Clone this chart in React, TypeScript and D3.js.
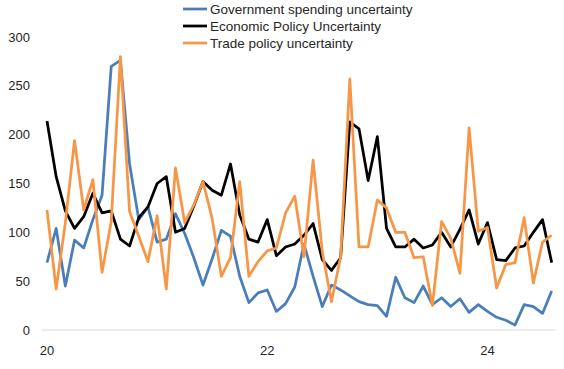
import * as d3 from "d3";

// monthly values, Jan 2020 .. Aug 2024
const govSpending = [69, 104, 45, 92, 84, 113, 138, 270, 276, 170, 113, 126, 90, 93, 119, 99, 74, 46, 73, 102, 96, 55, 28, 38, 41, 19, 27, 44, 88, 55, 24, 46, 41, 35, 29, 26, 25, 14, 54, 33, 28, 45, 26, 33, 24, 32, 18, 26, 19, 13, 10, 5, 26, 24, 17, 40];
const econPolicy = [214, 157, 122, 104, 116, 140, 120, 122, 93, 86, 115, 126, 150, 157, 100, 104, 127, 152, 143, 138, 170, 118, 93, 90, 113, 76, 85, 88, 97, 109, 72, 61, 74, 213, 206, 153, 198, 104, 85, 85, 93, 84, 87, 100, 85, 103, 123, 88, 110, 72, 71, 84, 86, 100, 113, 69];
const tradePolicy = [123, 42, 110, 194, 123, 154, 59, 111, 280, 121, 96, 70, 117, 42, 166, 110, 128, 152, 114, 55, 74, 152, 55, 70, 81, 84, 120, 137, 75, 174, 80, 29, 75, 257, 85, 85, 133, 125, 100, 100, 74, 75, 25, 111, 94, 58, 207, 101, 105, 43, 67, 69, 115, 48, 90, 97];

const xTicks = [20, 22, 24];
const yTicks = [0, 50, 100, 150, 200, 250, 300];

const seriesList = [
  { name: "Government spending uncertainty", values: govSpending, color: "#4a7ebb" },
  { name: "Economic Policy Uncertainty", values: econPolicy, color: "#000000" },
  { name: "Trade policy uncertainty", values: tradePolicy, color: "#f79646" },
];

const W = 564;
const H = 369;
const font = "'Liberation Sans', Arial, sans-serif";

export default function App() {
  const n = govSpending.length;
  const x = d3.scaleLinear().domain([20, 20 + (n - 1) / 12]).range([47, 551.7]);
  const y = d3.scaleLinear().domain([0, 300]).range([330, 37]);

  const line = d3
    .line<number>()
    .x((_, i) => x(20 + i / 12))
    .y((d) => y(d));

  return (
    <svg
      width={W}
      height={H}
      style={{ position: "absolute", left: 0, top: 0, background: "#fff" }}
      fontFamily={font}
    >
      {/* x axis line */}
      <line x1={42} x2={555} y1={y(0)} y2={y(0)} stroke="#d9d9d9" strokeWidth={1} />

      {yTicks.map((t) => (
        <text key={t} x={30} y={y(t)} dy="0.35em" textAnchor="end" fontSize={13} fill="#262626">
          {t}
        </text>
      ))}
      {xTicks.map((t) => (
        <text key={t} x={x(t)} y={350} dy="0.35em" textAnchor="middle" fontSize={13} fill="#262626">
          {t}
        </text>
      ))}

      {seriesList.map((s) => (
        <path
          key={s.name}
          d={line(s.values) ?? ""}
          fill="none"
          stroke={s.color}
          strokeWidth={2.75}
          strokeLinejoin="round"
        />
      ))}

      {/* legend */}
      {seriesList.map((s, i) => {
        const ly = 9 + i * 17;
        return (
          <g key={s.name}>
            <line x1={183} x2={207} y1={ly} y2={ly} stroke={s.color} strokeWidth={2.75} />
            <text x={210} y={ly} dy="0.35em" fontSize={13.5} fill="#262626">
              {s.name}
            </text>
          </g>
        );
      })}
    </svg>
  );
}
